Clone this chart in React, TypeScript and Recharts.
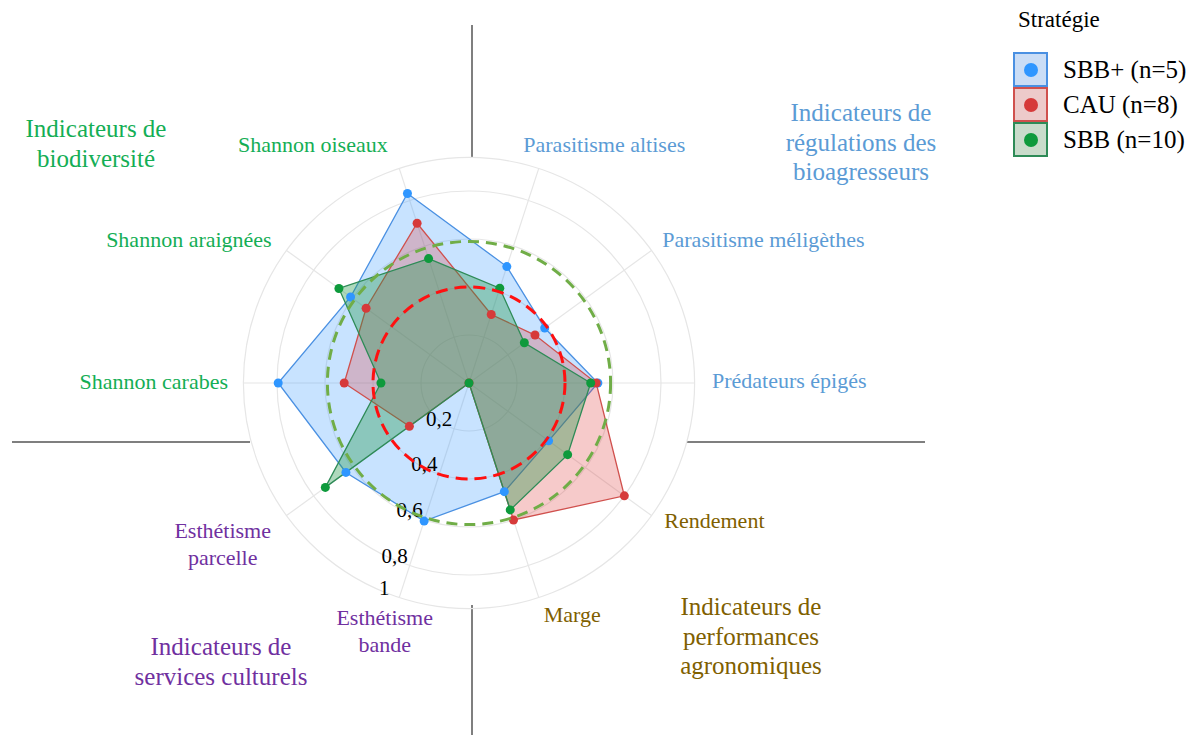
import { RadarChart, Radar, PolarGrid, PolarAngleAxis, PolarRadiusAxis, Legend } from 'recharts';

// axes, clockwise from "Shannon oiseaux"
const categories = [
  'Shannon oiseaux',
  'Parasitisme altises',
  'Parasitisme méligèthes',
  'Prédateurs épigés',
  'Rendement',
  'Marge',
  'Esthétisme bande',
  'Esthétisme parcelle',
  'Shannon carabes',
  'Shannon araignées',
];

const sbbPlus = [0.83, 0.51, 0.39, 0.537, 0.41, 0.476, 0.605, 0.634, 0.795, 0.61];
const cau = [0.70, 0.30, 0.34, 0.53, 0.80, 0.60, 0, 0.307, 0.52, 0.53];
const sbb = [0.545, 0.415, 0.285, 0.507, 0.508, 0.556, 0, 0.74, 0.367, 0.67];

// dashed reference circles
const refCau = 0.4;
const refSbb = 0.59;

// the outer ring sits a little inside 1 but carries the "1" label
const radiusTicks = [0, 0.2, 0.4, 0.6, 0.8, 0.94];
const radiusTickLabels = ['', '0,2', '0,4', '0,6', '0,8', '1'];

const FONT = "'Liberation Serif', 'Times New Roman', serif";
const GREEN = '#14AE55';
const BLUE = '#5B9BD5';
const OLIVE = '#7F6000';
const PURPLE = '#7030A0';

const W = 1196;
const H = 735;
const CX = 469;
const CY = 383;
const FULL_R = 240; // radius of value 1
const OUTER_RING = 226; // where spokes and labels stop

const series = [
  { key: 'sbbPlus', name: 'SBB+ (n=5)', line: '#4A90E2', fill: '#3399FF', dot: '#2F96FF', box: '#CADDF6' },
  { key: 'cau', name: 'CAU (n=8)', line: '#D0504D', fill: '#DC3C3C', dot: '#D63A3A', box: '#EDCACA' },
  { key: 'sbb', name: 'SBB (n=10)', line: '#2E8B57', fill: '#1E9646', dot: '#0E9A3C', box: '#C9DCCB' },
];

const data = categories.map((c, i) => ({ axis: c, sbbPlus: sbbPlus[i], cau: cau[i], sbb: sbb[i] }));

const angleLabelStyle: Record<string, { color: string; anchor: string; dx: number; dy: number; lines?: string[] }> = {
  'Shannon oiseaux': { color: GREEN, anchor: 'end', dx: -9, dy: -8 },
  'Parasitisme altises': { color: BLUE, anchor: 'start', dx: -18, dy: -8 },
  'Parasitisme méligèthes': { color: BLUE, anchor: 'start', dx: 4, dy: 2 },
  'Prédateurs épigés': { color: BLUE, anchor: 'start', dx: 9, dy: 5 },
  'Rendement': { color: OLIVE, anchor: 'start', dx: 6, dy: 7 },
  'Marge': { color: OLIVE, anchor: 'middle', dx: 31, dy: 16 },
  'Esthétisme bande': { color: PURPLE, anchor: 'middle', dx: -12, dy: 19, lines: ['Esthétisme', 'bande'] },
  'Esthétisme parcelle': { color: PURPLE, anchor: 'middle', dx: -57, dy: 17, lines: ['Esthétisme', 'parcelle'] },
  'Shannon carabes': { color: GREEN, anchor: 'end', dx: -7, dy: 6 },
  'Shannon araignées': { color: GREEN, anchor: 'end', dx: -8, dy: 2 },
};

const groupLabels = [
  { lines: ['Indicateurs de', 'biodiversité'], x: 96, y: 137, color: GREEN },
  { lines: ['Indicateurs de', 'régulations des', 'bioagresseurs'], x: 861, y: 121, color: BLUE },
  { lines: ['Indicateurs de', 'performances', 'agronomiques'], x: 751, y: 615, color: OLIVE },
  { lines: ['Indicateurs de', 'services culturels'], x: 221, y: 655, color: PURPLE },
];

const AngleTick = ({ x, y, payload }: any) => {
  const s = angleLabelStyle[payload.value];
  const lines = s.lines ?? [payload.value];
  return (
    <text x={x + s.dx} y={y + s.dy} textAnchor={s.anchor} fill={s.color} fontSize={22} fontFamily={FONT}>
      {lines.map((l, i) => (
        <tspan key={l} x={x + s.dx} dy={i === 0 ? 0 : 27}>{l}</tspan>
      ))}
    </text>
  );
};

const RadiusTick = ({ x, y, payload }: any) => {
  const label = radiusTickLabels[radiusTicks.indexOf(payload.value)] ?? '';
  if (!label) return null;
  return (
    <text x={x - 15} y={y - 3} textAnchor="middle" fill="#000" fontSize={21} fontFamily={FONT}>
      {label}
    </text>
  );
};

const LegendContent = () => (
  <div style={{ fontFamily: FONT, color: '#000' }}>
    <div style={{ fontSize: 23, height: 52, lineHeight: '40px', paddingLeft: 5 }}>Stratégie</div>
    {series.map(s => (
      <div key={s.key} style={{ display: 'flex', alignItems: 'center', height: 35 }}>
        <span
          style={{
            width: 35, height: 35, boxSizing: 'border-box', border: `2px solid ${s.line}`,
            background: s.box, display: 'flex', alignItems: 'center', justifyContent: 'center',
          }}
        >
          <span style={{ width: 14, height: 14, borderRadius: '50%', background: s.dot }} />
        </span>
        <span style={{ fontSize: 25, marginLeft: 15, whiteSpace: 'nowrap' }}>{s.name}</span>
      </div>
    ))}
  </div>
);

const layer = { position: 'absolute' as const, left: 0, top: 0 };
const polarFrame = { width: W, height: H, data, cx: CX, cy: CY, startAngle: 108, endAngle: -252, margin: { top: 0, right: 0, bottom: 0, left: 0 } };

// same polar frame drawn again on top, only to put a dashed ring over the filled areas
const RefCircle = ({ value, color, dash }: { value: number; color: string; dash: string }) => (
  <div style={{ ...layer, pointerEvents: 'none' }}>
    <RadarChart {...polarFrame} outerRadius={FULL_R}>
      <PolarGrid gridType="circle" radialLines={false} stroke={color} strokeWidth={3} strokeDasharray={dash} />
      <PolarAngleAxis dataKey="axis" tick={false} tickLine={false} axisLine={false} />
      <PolarRadiusAxis angle={-108} type="number" domain={[0, 1]} ticks={[value]} tick={false} axisLine={false} />
      <Radar dataKey="sbbPlus" stroke="none" fill="none" dot={false} isAnimationActive={false} />
    </RadarChart>
  </div>
);

export default function App() {
  return (
    <div style={{ ...layer, width: W, height: H, background: '#fff' }}>
      <svg width={W} height={H} style={layer}>
        <g stroke="#555" strokeWidth={1.5}>
          <line x1={12} y1={442} x2={250} y2={442} />
          <line x1={687} y1={442} x2={925} y2={442} />
          <line x1={472} y1={25} x2={472} y2={157} />
          <line x1={472} y1={605} x2={472} y2={735} />
        </g>
        {groupLabels.map(g => (
          <text key={g.lines[0] + g.x} x={g.x} y={g.y} textAnchor="middle" fill={g.color} fontSize={25} fontFamily={FONT}>
            {g.lines.map((l, i) => (
              <tspan key={l} x={g.x} dy={i === 0 ? 0 : 29.5}>{l}</tspan>
            ))}
          </text>
        ))}
      </svg>

      {/* spokes and category labels, stopping at the outer ring */}
      <div style={layer}>
        <RadarChart {...polarFrame} outerRadius={OUTER_RING}>
          <PolarGrid gridType="circle" polarRadius={[]} stroke="#E6E6E6" strokeWidth={1.2} />
          <PolarAngleAxis dataKey="axis" tick={<AngleTick />} tickLine={false} axisLine={false} />
          <PolarRadiusAxis angle={-108} type="number" domain={[0, 1]} tick={false} axisLine={false} />
          <Radar dataKey="sbbPlus" stroke="none" fill="none" dot={false} isAnimationActive={false} />
        </RadarChart>
      </div>

      <div style={layer}>
        <RadarChart {...polarFrame} outerRadius={FULL_R}>
          <PolarGrid gridType="circle" radialLines={false} stroke="#E6E6E6" strokeWidth={1.2} />
          <PolarAngleAxis dataKey="axis" tick={false} tickLine={false} axisLine={false} />
          <PolarRadiusAxis
            angle={-108}
            type="number"
            domain={[0, 1]}
            ticks={radiusTicks}
            tick={<RadiusTick />}
            axisLine={false}
            tickLine={false}
          />
          {series.map(s => (
            <Radar
              key={s.key}
              name={s.name}
              dataKey={s.key}
              stroke={s.line}
              strokeWidth={1.3}
              fill={s.fill}
              fillOpacity={s.key === 'sbb' ? 0.36 : 0.27}
              dot={{ r: 4.5, fill: s.dot, fillOpacity: 1, stroke: 'none' }}
              isAnimationActive={false}
            />
          ))}
          <Legend
            verticalAlign="top"
            align="right"
            layout="vertical"
            content={<LegendContent />}
            wrapperStyle={{ top: 0, left: 1013, width: 183 }}
          />
        </RadarChart>
      </div>
      <RefCircle value={refSbb} color="#70AD47" dash="11 7" />
      <RefCircle value={refCau} color="#FF1010" dash="12 7" />
    </div>
  );
}
